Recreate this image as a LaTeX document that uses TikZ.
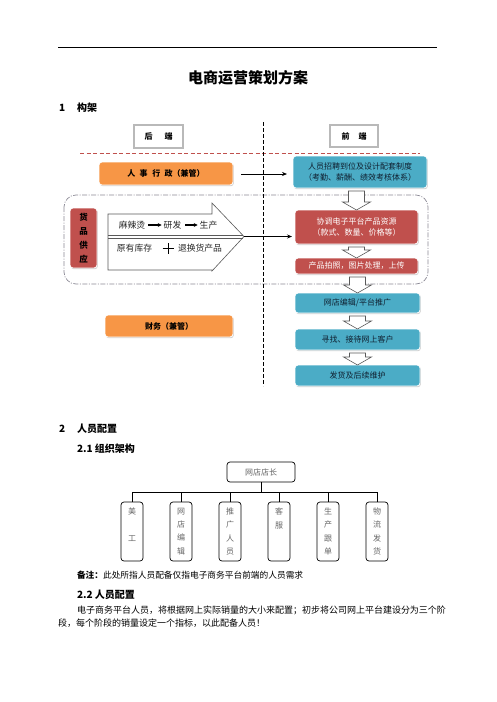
\documentclass[tikz,border=0pt]{standalone}
\usepackage{fontspec}
\setmainfont{Noto Sans CJK SC}
\usetikzlibrary{shadows,calc,arrows.meta}
\definecolor{orng}{HTML}{F79646}
\definecolor{blu}{HTML}{4BACC6}
\definecolor{rd}{HTML}{C0504D}
\definecolor{regiongray}{HTML}{8C8A96}
\definecolor{navytext}{HTML}{102030}
\newcommand\blockdown[2]{\draw[blockarr] let \p1=(#1.south), \p2=(#2.north) in
 (\x2-8pt,\y1-3pt) -- (\x2+8pt,\y1-3pt) -- (\x2+8pt,\y2+8pt) -- (\x2+14pt,\y2+8pt) -- (\x2,\y2) -- (\x2-14pt,\y2+8pt) -- (\x2-8pt,\y2+8pt) -- cycle;}
\begin{document}
\begin{tikzpicture}[x=1pt,y=-1pt,
  every node/.style={inner sep=0pt, outer sep=0pt},
  sbox/.style={rounded corners=3pt, draw=white, line width=0.8pt,
     drop shadow={shadow xshift=0.8pt, shadow yshift=-1.2pt, opacity=0.35},
     align=center},
  obox/.style={sbox, fill=orng, font=\bfseries\fontsize{8}{11}\selectfont\color{black}},
  bbox/.style={sbox, fill=blu, font=\fontsize{8}{11}\selectfont\color{navytext}},
  rbox/.style={sbox, fill=rd, font=\fontsize{8}{11}\selectfont\color{white}},
  endbox/.style={draw=black, double=gray!55, double distance=1.6pt, line width=0.5pt,
     font=\bfseries\fontsize{8}{10}\selectfont},
  blockarr/.style={draw=black!65, fill=white, line width=0.6pt},
  txt/.style={font=\fontsize{8.8}{10}\selectfont, text=black!85},
  head/.style={font=\bfseries\fontsize{10}{12}\selectfont, anchor=west},
  body/.style={font=\fontsize{9}{11}\selectfont, anchor=west},
  orgbox/.style={rounded corners=3pt, draw=black, line width=0.7pt, align=center,
     text=black!60, font=\fontsize{8}{13.3}\selectfont},
  child/.style={orgbox, minimum width=22, minimum height=59}
]
\useasboundingbox (0,0) rectangle (496,702);
\fill[white] (0,0) rectangle (496,702);

% header rule and title
\draw[line width=0.8pt] (58,47) -- (437,47);
\node[font=\bfseries\fontsize{15}{15}\selectfont] (title) at (248,78) {电商运营策划方案};
\node[head] (n1) at (59,108) {1};
\node[head] (h1) at (77,108) {构架};

% background structure
\draw[regiongray, line width=0.7pt, dash pattern=on 5pt off 1.5pt on 1pt off 1.5pt, rounded corners=12pt]
  (64,195) rectangle (428,284);
\draw[rd, line width=0.8pt, dash pattern=on 4pt off 2.5pt] (80,153) -- (420,153);
\draw[line width=0.6pt, dash pattern=on 4pt off 2pt] (263,122) -- (263,386);

% back / front
\node[endbox, minimum width=49, minimum height=23] (back) at (158.5,136.5) {后\hspace{12pt}端};
\node[endbox, minimum width=48, minimum height=22] (front) at (354,136) {前\hspace{9pt}端};

% left column
\node[obox, minimum width=134, minimum height=23] (hr) at (166,173.5) {人\hspace{4.5pt}事\hspace{4.5pt}行\hspace{4.5pt}政（兼管）};
\node[obox, minimum width=128, minimum height=22] (fin) at (169,326) {财务（兼管）};
\node[sbox, fill=rd, minimum width=27, minimum height=60, font=\bfseries\fontsize{8.5}{14}\selectfont\color{black}] (supply) at (83.5,238) {货\\品\\供\\应};

% big arrow
\coordinate (tip) at (244,236.5);
\draw[draw=black!65, fill=white, line width=0.6pt]
  (108,214) -- (212,214) -- (212,203) -- (tip) -- (212,271) -- (212,270) -- (108,270) -- cycle;
\draw[black!65, line width=0.6pt] (108,235.7) -- (242.5,235.7);
\draw[black!65, line width=0.6pt] (108,238.3) -- (242.5,238.3);
\node[txt] (mala) at (132,225) {麻辣烫};
\node[txt] (yanfa) at (172.5,225) {研发};
\node[txt] (sheng) at (208.5,225) {生产};
\draw[-{Stealth[length=4pt,width=4pt]}, line width=1.2pt] (mala.east) ++(3,0) -- ($(yanfa.west)+(-2,0)$);
\draw[-{Stealth[length=4pt,width=4pt]}, line width=1.2pt] (yanfa.east) ++(4,0) -- ($(sheng.west)+(-2,0)$);
\node[txt] (stock) at (134.5,248) {原有库存};
\node[txt] (ret) at (200,248) {退换货产品};
\draw[line width=0.8pt] (162.5,248.5) -- (173.5,248.5) (168,243) -- (168,254);

% right column
\node[bbox, minimum width=134, minimum height=32] (recruit) at (360,172) {人员招聘到位及设计配套制度\\（考勤、薪酬、绩效考核体系）};
\node[rbox, minimum width=123, minimum height=34] (coord) at (356.5,227) {协调电子平台产品资源\\（款式、数量、价格等）};
\node[rbox, minimum width=123, minimum height=16] (photo) at (356.5,266) {产品拍照，图片处理，上传};
\node[bbox, minimum width=125, minimum height=20] (shop) at (357.5,303) {网店编辑/平台推广};
\node[bbox, minimum width=125, minimum height=21] (find) at (357.5,339.5) {寻找、接待网上客户};
\node[bbox, minimum width=125, minimum height=21] (ship) at (357.5,375.5) {发货及后续维护};

\blockdown{recruit}{coord}
\blockdown{coord}{photo}
\blockdown{photo}{shop}
\blockdown{shop}{find}
\blockdown{find}{ship}

\draw[-{Stealth[length=5pt,width=4pt]}, line width=0.7pt, shorten <=8pt, shorten >=6pt]
  (hr.east |- 0,174) -- (recruit.west |- 0,174);
\draw[-{Stealth[length=5pt,width=4pt]}, line width=0.7pt, shorten >=3pt] (tip) -- (tip -| coord.west);

% section 2
\node[head] (n2) at (59,429) {2};
\node[head] (h2) at (77,429) {人员配置};
\node[head] (h21) at (77,449) {2.1 组织架构};

\node[orgbox, minimum width=68, minimum height=20] (boss) at (261,472) {网店店长};
\node[child] (c1) at (132,531.5) {美\\~\\工\\~};
\node[child] (c2) at (181,531.5) {网\\店\\编\\辑};
\node[child] (c3) at (230,531.5) {推\\广\\人\\员};
\node[child] (c4) at (279,531.5) {客\\服\\~\\~};
\node[child] (c5) at (328,531.5) {生\\产\\跟\\单};
\node[child] (c6) at (377,531.5) {物\\流\\发\\货};
\foreach \c in {c1,c2,c3,c4,c5,c6}
  \draw[line width=0.7pt] (boss.south) -- ++(0,10) -| (\c.north);

\node[body, font=\fontsize{8.7}{11}\selectfont] (note) at (77,575) {\textbf{备注：}此处所指人员配备仅指电子商务平台前端的人员需求};
\node[head] (h22) at (77,595) {2.2 人员配置};
\node[body] (p1) at (77,610) {电子商务平台人员，将根据网上实际销量的大小来配置；初步将公司网上平台建设分为三个阶};
\node[body] (p2) at (58,623) {段，每个阶段的销量设定一个指标，以此配备人员！};
\end{tikzpicture}
\end{document}
